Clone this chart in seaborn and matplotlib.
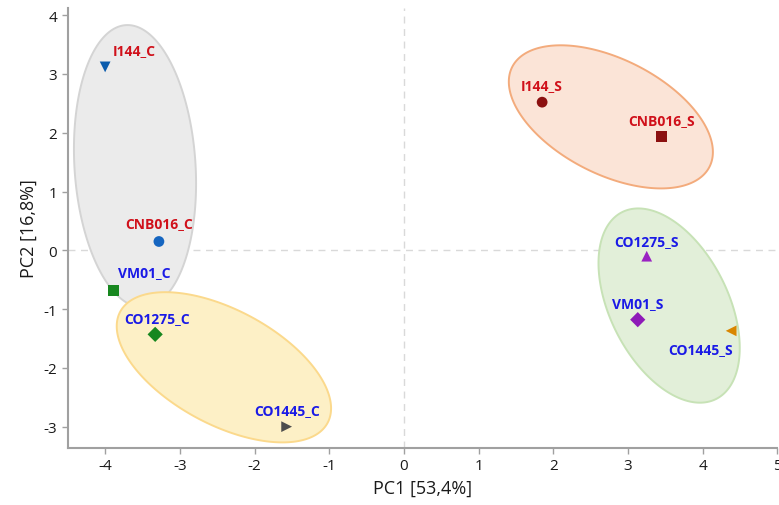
import numpy as np
import pandas as pd
import matplotlib
matplotlib.use("Agg")
import matplotlib.pyplot as plt
import seaborn as sns

# --- scores ---
SAMPLES = ["I144_C", "CNB016_C", "VM01_C", "CO1275_C", "CO1445_C",
           "I144_S", "CNB016_S", "CO1275_S", "VM01_S", "CO1445_S"]
PC1 = [-4.00, -3.28, -3.89, -3.33, -1.57, 1.85, 3.45, 3.25, 3.13, 4.38]
PC2 = [3.12, 0.15, -0.68, -1.43, -3.00, 2.52, 1.93, -0.10, -1.18, -1.37]
MARKERS = ["v", "o", "s", "D", ">", "o", "s", "^", "D", "<"]
POINT_COLORS = ["#0b5cad", "#1565c0", "#17871f", "#17871f", "#4d4d4d",
                "#8b1010", "#8b1010", "#9a22c2", "#8e1ab8", "#d98600"]
LABEL_COLORS = ["#d0101a", "#d0101a", "#1a1ae6", "#1a1ae6", "#1a1ae6",
                "#d0101a", "#d0101a", "#1a1ae6", "#1a1ae6", "#1a1ae6"]
LABEL_OFFSETS = [(21, 12), (0, 13), (22, 13), (1, 12), (0, 12),
                 (0, 12), (0, 12), (0, 11), (0, 12), (-22, -13)]

# --- group ellipses: center, semi-axes (x units, isotropic), angle (deg) ---
ELL_CX = [-3.60, -2.41, 2.77, 3.55]
ELL_CY = [1.43, -1.99, 2.27, -0.94]
ELL_A = [1.893, 1.575, 1.48, 1.40]
ELL_B = [0.81, 0.767, 0.77, 0.79]
ELL_ANGLE = [93.7, -28.2, -26.8, -63.3]
ELL_FILL = ["#ebebeb", "#fdf0c6", "#fbe4d7", "#e2efd9"]
ELL_EDGE = ["#d4d4d4", "#fbd98c", "#f3ab7c", "#c7e2b6"]

XLIM = (-4.5, 5.0)
YLIM = (-3.36, 4.12)

sns.set_style("white")
plt.rcParams["font.family"] = ["Open Sans", "DejaVu Sans"]
plt.rcParams["axes.unicode_minus"] = False

fig = plt.figure(figsize=(7.79, 5.06), dpi=100)
ax = fig.add_axes([0.087, 0.113, 0.911, 0.869])
ax.set_xlim(*XLIM)
ax.set_ylim(*YLIM)

# ratio of y-units to x-units on screen, so ellipses keep their drawn shape
bbox = ax.get_window_extent()
px_x = bbox.width / (XLIM[1] - XLIM[0])
px_y = bbox.height / (YLIM[1] - YLIM[0])
ratio = px_x / px_y

t = np.linspace(0, 2 * np.pi, 300)
for cx, cy, a, b, ang, fc, ec in zip(ELL_CX, ELL_CY, ELL_A, ELL_B, ELL_ANGLE, ELL_FILL, ELL_EDGE):
    th = np.deg2rad(ang)
    ex = a * np.cos(t) * np.cos(th) - b * np.sin(t) * np.sin(th)
    ey = a * np.cos(t) * np.sin(th) + b * np.sin(t) * np.cos(th)
    ax.fill(cx + ex, cy + ey * ratio, facecolor=fc, edgecolor=ec, lw=1.4, zorder=1)

ax.axhline(0, color="#d9d9d9", ls=(0, (5, 4)), lw=1, zorder=0.5)
ax.axvline(0, color="#d9d9d9", ls=(0, (5, 4)), lw=1, zorder=0.5)

df = pd.DataFrame({"pc1": PC1, "pc2": PC2, "sample": SAMPLES})
sns.scatterplot(data=df, x="pc1", y="pc2", hue="sample", style="sample",
                palette=dict(zip(SAMPLES, POINT_COLORS)),
                markers=dict(zip(SAMPLES, MARKERS)),
                s=60, edgecolor="none", legend=False, ax=ax, zorder=3)

for name, x, y, col, off in zip(SAMPLES, PC1, PC2, LABEL_COLORS, LABEL_OFFSETS):
    ax.annotate(name, (x, y), xytext=off, textcoords="offset points",
                ha="center", va="center", color=col, fontsize=10,
                fontweight="bold", zorder=4)

ax.set_xticks(range(-4, 6))
ax.set_yticks(range(-3, 5))
ax.set_xlabel("PC1 [53,4%]", fontsize=13, color="#1a1a1a")
ax.set_ylabel("PC2 [16,8%]", fontsize=13, color="#1a1a1a")
ax.tick_params(axis="both", labelsize=11, colors="#1a1a1a", length=4,
               width=1, direction="out", left=True, bottom=True)
ax.tick_params(axis="both", color="#a0a0a0")
for side in ["top", "right"]:
    ax.spines[side].set_visible(False)
for side in ["left", "bottom"]:
    ax.spines[side].set_color("#a0a0a0")
    ax.spines[side].set_linewidth(1.5)

fig.savefig("out.png", dpi=100)
